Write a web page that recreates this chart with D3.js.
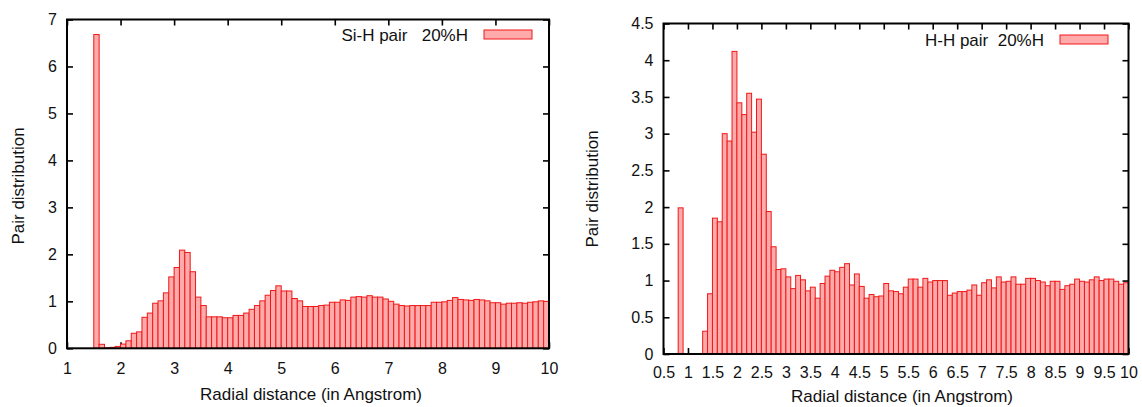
<!DOCTYPE html>
<html>
<head>
<meta charset="utf-8">
<script src="https://cdn.jsdelivr.net/npm/d3@7"></script>
<style>
body { margin: 0; background: #fff; }
svg { display: block; font-family: "Liberation Sans", Arial, Helvetica, sans-serif; }
</style>
</head>
<body>
<svg id="canvas" width="1142" height="407"></svg>
<script>
// both histograms use 0.1 Angstrom bins
var binWidth = 0.1

// Si-H pair 20%H, first bin starts at 1.5
var siHStart = 1.5
var siHValues = [
    6.68, 0.085, 0.01, 0.02, 0.04, 0.09, 0.16, 0.32, 0.35, 0.66,
    0.75, 0.96, 1.01, 1.18, 1.52, 1.72, 2.09, 2.04, 1.63, 1.09,
    0.91, 0.67, 0.67, 0.67, 0.65, 0.65, 0.70, 0.70, 0.75, 0.83,
    0.91, 1.01, 1.13, 1.23, 1.33, 1.22, 1.22, 1.06, 1.01, 0.89,
    0.89, 0.89, 0.91, 0.92, 0.98, 0.98, 1.03, 1.02, 1.09, 1.10,
    1.09, 1.12, 1.09, 1.09, 1.05, 1.00, 0.94, 0.91, 0.90, 0.91,
    0.91, 0.91, 0.91, 0.98, 0.98, 0.99, 1.02, 1.08, 1.04, 1.03,
    1.02, 1.04, 1.03, 1.01, 0.97, 0.97, 0.94, 0.96, 0.96, 0.97,
    0.96, 0.98, 0.99, 1.01, 1.00
]
var siHXTicks = [1, 2, 3, 4, 5, 6, 7, 8, 9, 10]
var siHYTicks = [0, 1, 2, 3, 4, 5, 6, 7]

// H-H pair 20%H, first bin starts at 0.8
var hHStart = 0.8
var hHValues = [
    1.99, 0, 0, 0, 0, 0.31, 0.82, 1.85, 1.80, 3.00,
    2.90, 4.12, 3.42, 3.26, 3.55, 3.02, 3.47, 2.72, 1.94, 1.46,
    1.15, 1.16, 1.05, 0.89, 1.07, 1.01, 0.86, 0.91, 0.76, 0.96,
    1.06, 1.14, 1.12, 1.18, 1.23, 0.94, 1.09, 0.92, 0.76, 0.81,
    0.78, 0.79, 0.96, 0.86, 0.85, 0.82, 0.91, 1.02, 1.02, 0.91,
    1.03, 0.98, 1.00, 1.00, 1.00, 0.80, 0.83, 0.85, 0.85, 0.87,
    0.94, 0.80, 0.97, 1.01, 0.90, 1.05, 0.98, 0.99, 1.05, 0.95,
    0.95, 1.03, 1.03, 1.00, 0.98, 0.93, 0.99, 0.99, 0.88, 0.93,
    0.95, 1.02, 0.99, 0.98, 1.01, 1.05, 1.00, 1.02, 1.02, 0.99,
    0.95, 0.97
]
var hHXTicks = [0.5, 1, 1.5, 2, 2.5, 3, 3.5, 4, 4.5, 5, 5.5, 6, 6.5, 7, 7.5, 8, 8.5, 9, 9.5, 10]
var hHYTicks = [0, 0.5, 1, 1.5, 2, 2.5, 3, 3.5, 4, 4.5]

class Histogram
{
    constructor(config)
    {
        this.config = config
        this.box = config.box
        this.xScale = d3.scaleLinear()
                        .domain(config.xDomain)
                        .range([this.box.left, this.box.right])
        this.yScale = d3.scaleLinear()
                        .domain(config.yDomain)
                        .range([this.box.bottom, this.box.top])
    }

    compile()
    {
        var svg = d3.select("#canvas")
        var g = svg.append("g")
        var box = this.box
        var xScale = this.xScale
        var yScale = this.yScale
        var config = this.config
        var fmt = d3.format("~g")

        // ticks first, the bars cover them (gnuplot look)
        g.append("g")
            .attr("transform", "translate(0," + box.bottom + ")")
            .call(d3.axisBottom(xScale).tickValues(config.xTicks).tickFormat(fmt)
                .tickSize(-6).tickPadding(config.xPad))
        g.append("g")
            .attr("transform", "translate(0," + box.top + ")")
            .call(d3.axisTop(xScale).tickValues(config.xTicks).tickFormat("")
                .tickSize(-6))
        g.append("g")
            .attr("transform", "translate(" + box.left + ",0)")
            .call(d3.axisLeft(yScale).tickValues(config.yTicks).tickFormat(fmt)
                .tickSize(-6).tickPadding(10))
        g.append("g")
            .attr("transform", "translate(" + box.right + ",0)")
            .call(d3.axisRight(yScale).tickValues(config.yTicks).tickFormat("")
                .tickSize(-6))

        g.selectAll(".domain").remove()
        g.selectAll(".tick line").attr("stroke", "#000").attr("stroke-width", 1.6)
        g.selectAll(".tick text")
            .attr("fill", "#111")
            .style("font-size", "16px")
            .style("font-family", "'Liberation Sans', Arial, Helvetica, sans-serif")

        var bins = config.values.map(function(v, i)
        {
            return {start: config.start + i * binWidth, value: v}
        })

        g.append("g")
            .selectAll("rect")
            .data(bins.filter(function(d){ return d.value > 0 }))
            .enter()
                .append("rect")
                .attr("x",      function(d){ return xScale(d.start) })
                .attr("width",  function(d){ return xScale(d.start + binWidth) - xScale(d.start) })
                .attr("y",      function(d){ return yScale(d.value) })
                .attr("height", function(d){ return yScale(0) - yScale(d.value) })
                .attr("fill", "#ffabab")
                .attr("stroke", "#f01818")
                .attr("stroke-width", 1)

        // frame
        g.append("rect")
            .attr("x", box.left)
            .attr("y", box.top)
            .attr("width", box.right - box.left)
            .attr("height", box.bottom - box.top)
            .attr("fill", "none")
            .attr("stroke", "#000")
            .attr("stroke-width", 2)

        // key
        var key = config.key
        g.append("text")
            .attr("x", key.x - 16)
            .attr("y", key.y + 10.5)
            .attr("text-anchor", "end")
            .style("white-space", "pre")
            .style("font-size", "17px")
            .attr("fill", "#111")
            .text(key.label)
        g.append("rect")
            .attr("x", key.x)
            .attr("y", key.y)
            .attr("width", 48)
            .attr("height", 9)
            .attr("fill", "#ffabab")
            .attr("stroke", "#f01818")
            .attr("stroke-width", 1)

        // axis titles
        g.append("text")
            .attr("x", config.xTitle.x)
            .attr("y", config.xTitle.y)
            .attr("text-anchor", "middle")
            .style("font-size", "17px")
            .attr("fill", "#111")
            .text("Radial distance (in Angstrom)")
        g.append("text")
            .attr("transform", "translate(" + config.yTitle.x + "," + config.yTitle.y + ") rotate(-90)")
            .attr("text-anchor", "middle")
            .style("font-size", "17px")
            .attr("fill", "#111")
            .text("Pair distribution")
    }
}

var siH = new Histogram({
    box: {left: 67, right: 549, top: 19.5, bottom: 348.3},
    xDomain: [1, 10],
    yDomain: [0, 7],
    xTicks: siHXTicks,
    yTicks: siHYTicks,
    xPad: 14,
    start: siHStart,
    values: siHValues,
    key: {x: 484, y: 30, label: "Si-H pair   20%H"},
    xTitle: {x: 311, y: 400},
    yTitle: {x: 24, y: 186}
})
siH.compile()

var hH = new Histogram({
    box: {left: 663.5, right: 1128.5, top: 23.5, bottom: 354},
    xDomain: [0.5, 10],
    yDomain: [0, 4.5],
    xTicks: hHXTicks,
    yTicks: hHYTicks,
    xPad: 13,
    start: hHStart,
    values: hHValues,
    key: {x: 1060, y: 35, label: "H-H pair  20%H"},
    xTitle: {x: 902, y: 402},
    yTitle: {x: 598, y: 189}
})
hH.compile()
</script>
</body>
</html>
